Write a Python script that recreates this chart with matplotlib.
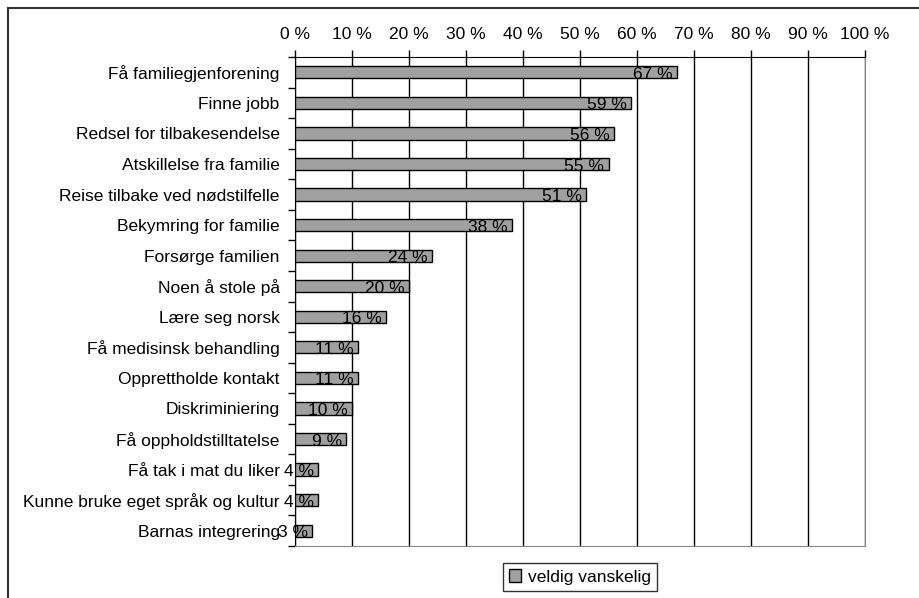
import matplotlib
matplotlib.use("Agg")
import matplotlib.pyplot as plt
from matplotlib.lines import Line2D
from matplotlib.ticker import FixedLocator

plt.rcParams['font.family'] = ['Liberation Sans', 'DejaVu Sans']

# Data
categories = [
    "Få familiegjenforening", "Finne jobb", "Redsel for tilbakesendelse",
    "Atskillelse fra familie", "Reise tilbake ved nødstilfelle",
    "Bekymring for familie", "Forsørge familien", "Noen å stole på",
    "Lære seg norsk", "Få medisinsk behandling", "Opprettholde kontakt",
    "Diskriminiering", "Få oppholdstilltatelse", "Få tak i mat du liker",
    "Kunne bruke eget språk og kultur", "Barnas integrering",
]
values = [67, 59, 56, 55, 51, 38, 24, 20, 16, 11, 11, 10, 9, 4, 4, 3]
x_ticks = list(range(0, 101, 10))
series_name = "veldig vanskelig"

fs = 12.5

fig = plt.figure(figsize=(9.2, 5.98), dpi=100)
ax = fig.add_axes([295 / 920, 1 - 546 / 598, 570 / 920, 489 / 598])

pos = list(range(len(categories)))
ax.barh(pos, values, height=0.4, color="#a0a0a0", edgecolor="black",
        linewidth=1, label=series_name, zorder=3)

for p, v in zip(pos, values):
    ax.annotate(f"{v} %", xy=(v, p), xytext=(-3, -1.5), textcoords="offset points",
                ha="right", va="center", fontsize=fs, color="black", zorder=4)

ax.set_xlim(0, 100)
ax.set_ylim(len(categories) - 0.5, -0.5)

ax.xaxis.tick_top()
ax.set_xticks(x_ticks)
ax.set_xticklabels([f"{t} %" for t in x_ticks], fontsize=fs)
ax.tick_params(axis="x", direction="out", length=5, width=1, pad=6)

ax.set_yticks(pos)
ax.set_yticklabels(categories, fontsize=fs)
ax.tick_params(axis="y", which="major", length=0, pad=11)
ax.yaxis.set_minor_locator(FixedLocator([p + 0.5 for p in pos] + [-0.5]))
ax.tick_params(axis="y", which="minor", length=5, width=1, direction="out")

ax.grid(axis="x", color="black", linewidth=1, zorder=0)
ax.set_axisbelow(True)
for side in ["top", "left"]:
    ax.spines[side].set_color("black")
for side in ["bottom", "right"]:
    ax.spines[side].set_color("#888888")

ax.legend(loc="center", bbox_to_anchor=(580 / 920, 1 - 577 / 598),
          bbox_transform=fig.transFigure, fontsize=fs, frameon=True,
          fancybox=False, edgecolor="black", handlelength=0.7, handleheight=0.7,
          handletextpad=0.4, borderpad=0.35)

# outer chart frame (clipped on right and bottom)
fig.add_artist(Line2D([8 / 920, 8 / 920], [0, 1 - 8 / 598], color="#333333", lw=1.5))
fig.add_artist(Line2D([8 / 920, 1], [1 - 8 / 598, 1 - 8 / 598], color="#333333", lw=1.5))

fig.savefig("out.png", dpi=100)
